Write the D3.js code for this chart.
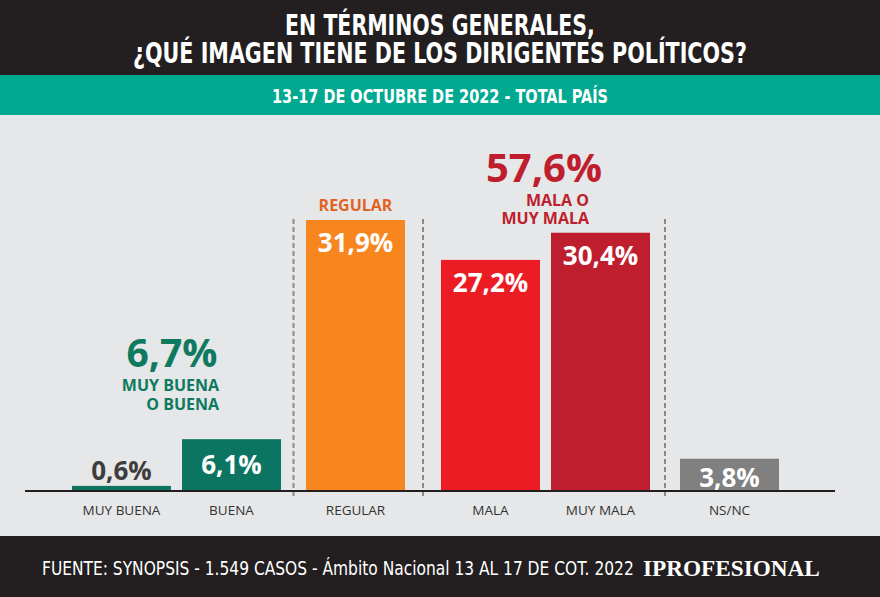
<!DOCTYPE html>
<html><head><meta charset="utf-8">
<script src="https://cdn.jsdelivr.net/npm/d3@7"></script>
<style>html,body{margin:0;padding:0;background:#e6e7e8}svg{display:block}</style>
</head><body>
<svg id="c" width="880" height="597"></svg>
<script>
const categories = ["MUY BUENA","BUENA","REGULAR","MALA","MUY MALA","NS/NC"];
const values = [0.6, 6.1, 31.9, 27.2, 30.4, 3.8];
const valueLabels = ["0,6%","6,1%","31,9%","27,2%","30,4%","3,8%"];
const groups = ["buena","buena","regular","mala","mala","nsnc"];
const colors = ["#0b7561","#0b7561","#f7861e","#ec1c24","#be1e2d","#808080"];
const titleLines = ["EN TÉRMINOS GENERALES,","¿QUÉ IMAGEN TIENE DE LOS DIRIGENTES POLÍTICOS?"];
const subtitle = "13-17 DE OCTUBRE DE 2022 - TOTAL PAÍS";
const footer = "FUENTE: SYNOPSIS - 1.549 CASOS - Ámbito Nacional 13 AL 17 DE COT. 2022";
const brand = "IPROFESIONAL";

const svg = d3.select("#c");
const W = 880, H = 597;
const narrow = "'Liberation Sans Narrow','DejaVu Sans Condensed',Arial Narrow,sans-serif";
const sans = "'Open Sans','Noto Sans',sans-serif";

// fit a text horizontally to a target width by scaling in x around its anchor
function fitText(sel, x, y, target, anchor){
  sel.attr("x",0).attr("y",0).attr("text-anchor",anchor);
  const w = sel.node().getComputedTextLength();
  const s = target / w;
  sel.attr("transform",`translate(${x},${y}) scale(${s},1)`);
}

// backgrounds
svg.append("rect").attr("width",W).attr("height",H).attr("fill","#e6e7e8");
svg.append("rect").attr("width",W).attr("height",75).attr("fill","#231f20");
svg.append("rect").attr("y",75).attr("width",W).attr("height",40).attr("fill","#00a990");
svg.append("rect").attr("y",536).attr("width",W).attr("height",61).attr("fill","#231f20");

// title
const tw = [310, 614];
titleLines.forEach((t,i)=>{
  const tt = svg.append("text").attr("fill","#fff").attr("font-family",narrow)
    .attr("font-weight","bold").attr("font-size",28).text(t);
  fitText(tt, W/2, 35+i*28, tw[i], "middle");
});
fitText(svg.append("text").attr("fill","#fff").attr("font-family",narrow).attr("font-weight","bold")
  .attr("font-size",19).text(subtitle), W/2, 103, 336, "middle");

// footer
fitText(svg.append("text").attr("fill","#fff").attr("font-family",narrow).attr("font-size",19).text(footer),
  42, 575, 592, "start");
fitText(svg.append("text").attr("fill","#fff").attr("font-family","'Liberation Serif','DejaVu Serif',serif")
  .attr("font-weight","bold").attr("font-size",24).text(brand), 643, 576, 177, "start");

// scales
const baseY = 491;
const y = d3.scaleLinear().domain([0, 31.9]).range([baseY, 220]);
const xb = d3.scaleBand().domain(categories).range([72, 72 + 5*110 + 99]).paddingInner(0.1).paddingOuter(0);
const groupOffset = d3.scaleOrdinal().domain(["buena","regular","mala","nsnc"]).range([0, 14, 39, 58]);
const bw = xb.bandwidth();
const xPos = (c,i) => xb(c) + groupOffset(groups[i]);

const data = categories.map((c,i)=>({c, v:values[i], lab:valueLabels[i], g:groups[i], col:colors[i], x:xPos(c,i)}));

// dashed separators between groups
for (let i=1;i<data.length;i++){
  if (data[i].g !== data[i-1].g){
    const mx = (data[i-1].x + bw + data[i].x)/2;
    svg.append("line").attr("x1",mx).attr("x2",mx).attr("y1",219).attr("y2",497)
      .attr("stroke","#8a8a8a").attr("stroke-width",2).attr("stroke-dasharray","5,3");
  }
}

// bars
svg.selectAll("rect.bar").data(data).join("rect").attr("class","bar")
  .attr("x",d=>d.x).attr("width",bw).attr("y",d=>y(d.v)).attr("height",d=>baseY-y(d.v)).attr("fill",d=>d.col);

// axis line
svg.append("line").attr("x1",25).attr("x2",835).attr("y1",baseY).attr("y2",baseY).attr("stroke","#231f20").attr("stroke-width",2);

// value labels
svg.selectAll("text.val").data(data).join("text").attr("class","val")
  .attr("x",d=>d.x+bw/2).attr("text-anchor","middle")
  .attr("y",d=> d.v < 2 ? y(d.v)-6 : (d.v<5 ? baseY-4 : (d.v<8 ? y(d.v)+35 : y(d.v)+32)))
  .attr("fill",d=> d.v<2 ? "#3d3d3d" : "#fff")
  .attr("font-family",sans).attr("font-weight","bold").attr("font-size",26)
  .text(d=>d.lab);

// category labels
svg.selectAll("text.cat").data(data).join("text").attr("class","cat")
  .attr("x",d=>d.x+bw/2).attr("y",515).attr("text-anchor","middle")
  .attr("fill","#333").attr("font-family",sans).attr("font-size",13.5).text(d=>d.c);

// group annotations
const ann = svg.append("g").attr("font-family",sans).attr("font-weight","bold");
ann.append("text").attr("x",172).attr("y",367).attr("text-anchor","middle").attr("fill","#0e7a5f").attr("font-size",39).text("6,7%");
ann.append("text").attr("x",219).attr("y",391).attr("text-anchor","end").attr("fill","#0e7a5f").attr("font-size",16).text("MUY BUENA");
ann.append("text").attr("x",219).attr("y",410).attr("text-anchor","end").attr("fill","#0e7a5f").attr("font-size",16).text("O BUENA");
ann.append("text").attr("x",xPos("REGULAR",2)+bw/2).attr("y",211).attr("text-anchor","middle").attr("fill","#e0641f").attr("font-size",16).text("REGULAR");
ann.append("text").attr("x",544).attr("y",182).attr("text-anchor","middle").attr("fill","#be1e2d").attr("font-size",40).text("57,6%");
ann.append("text").attr("x",589).attr("y",206).attr("text-anchor","end").attr("fill","#be1e2d").attr("font-size",16).text("MALA O");
ann.append("text").attr("x",589).attr("y",224).attr("text-anchor","end").attr("fill","#be1e2d").attr("font-size",16).text("MUY MALA");
</script>
</body></html>
